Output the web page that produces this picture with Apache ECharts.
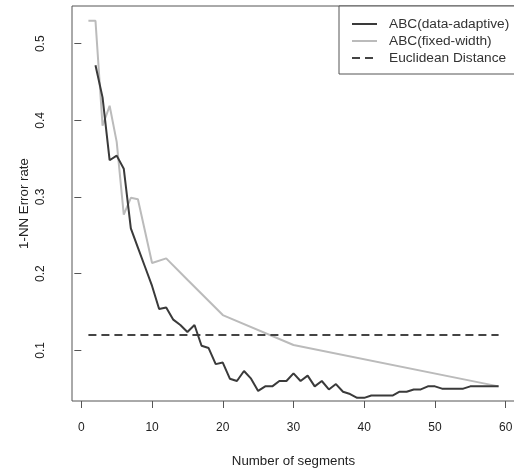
<!DOCTYPE html>
<html><head><meta charset="utf-8">
<script src="https://cdn.jsdelivr.net/npm/echarts@6/dist/echarts.min.js"></script>
<style>html,body{margin:0;padding:0;background:#fff}#c{width:514px;height:470px}</style>
</head><body><div id="c"></div>
<script>
var adaptiveX = [2,3,4,5,6,7,8,9,10,11,12,13,14,15,16,17,18,19,20,21,22,23,24,25,26,27,28,29,30,31,32,33,34,35,36,37,38,39,40,41,42,43,44,45,46,47,48,49,50,51,52,53,54,55,56,57,58,59];
var adaptiveY = [0.472,0.430,0.348,0.354,0.337,0.259,0.234,0.209,0.184,0.154,0.156,0.140,0.133,0.124,0.133,0.106,0.103,0.082,0.084,0.063,0.060,0.073,0.063,0.047,0.053,0.053,0.060,0.060,0.070,0.060,0.067,0.053,0.060,0.049,0.056,0.046,0.043,0.038,0.038,0.041,0.041,0.041,0.041,0.046,0.046,0.049,0.049,0.053,0.053,0.050,0.050,0.050,0.050,0.053,0.053,0.053,0.053,0.053];
var fixedX = [1,2,3,4,5,6,7,8,10,12,15,20,30,59];
var fixedY = [0.530,0.530,0.393,0.419,0.372,0.277,0.299,0.297,0.214,0.220,0.192,0.146,0.107,0.053];
var euclidX = [1,59];
var euclidY = [0.12,0.12];
var xTicks = [0,10,20,30,40,50,60];
var yTicks = [0.1,0.2,0.3,0.4,0.5];
var seriesNames = ['ABC(data-adaptive)','ABC(fixed-width)','Euclidean Distance'];

function pairs(xs, ys){ return xs.map(function(x,i){ return [x, ys[i]]; }); }

var font = 'Liberation Sans, Arial, sans-serif';
var chart = echarts.init(document.getElementById('c'), null, {renderer:'canvas'});
chart.setOption({
  animation:false,
  backgroundColor:'#fff',
  grid:{left:72, top:6, right:-1, bottom:69, show:true, borderColor:'#555', borderWidth:1, containLabel:false, outerBoundsMode:'none'},
  xAxis:{
    type:'value', min:-1.32, max:61.32,
    name:'Number of segments', nameLocation:'middle', nameGap:54, nameMoveOverlap:false,
    nameTextStyle:{fontFamily:font, fontSize:13.3, color:'#222'},
    axisLine:{show:false},
    splitLine:{show:false},
    axisTick:{show:true, length:7, lineStyle:{color:'#555'}, customValues:xTicks},
    axisLabel:{fontFamily:font, fontSize:12, color:'#222', margin:21, customValues:xTicks}
  },
  yAxis:{
    type:'value', min:0.0339, max:0.5492,
    name:'1-NN Error rate', nameLocation:'middle', nameGap:41, nameRotate:90, nameMoveOverlap:false,
    nameTextStyle:{fontFamily:font, fontSize:13.3, color:'#222'},
    axisLine:{show:false},
    splitLine:{show:false},
    axisTick:{show:true, length:7, lineStyle:{color:'#555'}, customValues:yTicks},
    axisLabel:{fontFamily:font, fontSize:12, color:'#222', margin:25, rotate:90, customValues:yTicks,
      formatter:function(v){ return String(Math.round(v*10)/10); }}
  },
  legend:{
    orient:'vertical', left:339, top:6,
    data:seriesNames,
    itemWidth:25, itemHeight:14, itemGap:3,
    padding:[11,8,9,12],
    borderColor:'#555', borderWidth:1, backgroundColor:'#fff',
    itemStyle:{opacity:0},
    textStyle:{fontFamily:font, fontSize:13.7, color:'#333', padding:[0,0,0,7], lineHeight:14}
  },
  series:[
    {name:seriesNames[0], type:'line', data:pairs(adaptiveX, adaptiveY), symbol:'none', z:3,
      lineStyle:{color:'#3a3a3a', width:2}, itemStyle:{color:'#3a3a3a'}},
    {name:seriesNames[1], type:'line', data:pairs(fixedX, fixedY), symbol:'none', z:2,
      lineStyle:{color:'#bbbbbb', width:2}, itemStyle:{color:'#bbbbbb'}},
    {name:seriesNames[2], type:'line', data:pairs(euclidX, euclidY), symbol:'none', z:2,
      lineStyle:{color:'#444', width:2, type:[8,5]}, itemStyle:{color:'#444'}}
  ]
});
</script>
</body></html>
